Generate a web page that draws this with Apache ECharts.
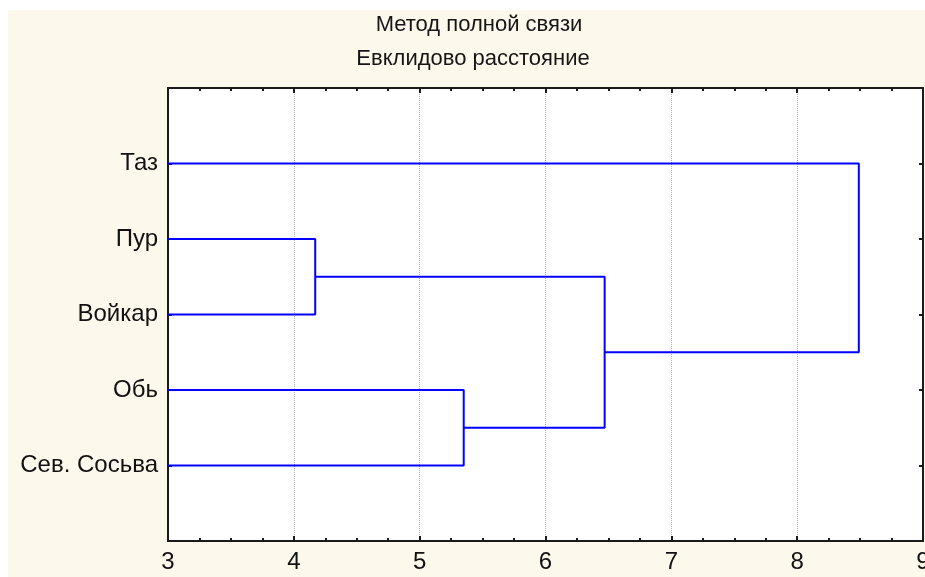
<!DOCTYPE html>
<html>
<head>
<meta charset="utf-8">
<script src="https://cdn.jsdelivr.net/npm/echarts@6/dist/echarts.min.js"></script>
<style>
  html, body { margin: 0; padding: 0; background: #ffffff; overflow: hidden; }
  #chart { position: absolute; left: 8px; top: 10px; width: 917px; height: 567px; }
</style>
</head>
<body>
<div id="chart"></div>
<script>
// ---- data ----
const titleLine1 = 'Метод полной связи';
const titleLine2 = 'Евклидово расстояние';
const leaves = ['Таз', 'Пур', 'Войкар', 'Обь', 'Сев. Сосьва'];
// merges (scipy-style node indices: leaves 0..4, clusters 5..)
const mergeLeft   = [1, 3, 5, 0];
const mergeRight  = [2, 4, 6, 7];
const mergeHeight = [4.17, 5.35, 6.47, 8.49];
const xMin = 3, xMax = 9, xInterval = 1;

// ---- build dendrogram links from data ----
const nodes = leaves.map((n, i) => ({ x: xMin, y: i + 1 }));
const series = [];
for (let k = 0; k < mergeHeight.length; k++) {
  const a = nodes[mergeLeft[k]], b = nodes[mergeRight[k]], h = mergeHeight[k];
  nodes.push({ x: h, y: (a.y + b.y) / 2 });
  series.push({
    type: 'line',
    data: [[a.x, a.y], [h, a.y], [h, b.y], [b.x, b.y]],
    symbol: 'none',
    lineStyle: { color: '#0000ff', width: 2 },
    z: 3,
    animation: false,
    silent: true
  });
}

const font = 'Liberation Sans, Arial, sans-serif';
const axisLineStyle = { color: '#1a1a1a', width: 2 };

const chart = echarts.init(document.getElementById('chart'), null, { renderer: 'canvas' });
chart.setOption({
  backgroundColor: '#fdf8ec',
  animation: false,
  title: [
    { text: titleLine1, left: 466, top: -1, textAlign: 'center',
      textStyle: { fontFamily: font, fontSize: 22, fontWeight: 'normal', color: '#151515' } },
    { text: titleLine2, left: 460, top: 33, textAlign: 'center',
      textStyle: { fontFamily: font, fontSize: 22, fontWeight: 'normal', color: '#151515' } }
  ],
  grid: { left: 160, right: 2, top: 78, bottom: 36, show: true, backgroundColor: '#ffffff', borderWidth: 0,
          containLabel: false, outerBoundsMode: 'none' },
  xAxis: [
    {
      type: 'value', position: 'bottom', min: xMin, max: xMax, interval: xInterval,
      axisLine: { show: true, onZero: false, lineStyle: axisLineStyle },
      axisTick: { show: true, inside: true, length: 5, lineStyle: axisLineStyle },
      minorTick: { show: true, splitNumber: 4, length: 3, lineStyle: { color: '#1a1a1a', width: 2 } },
      axisLabel: { show: true, margin: 9, fontFamily: font, fontSize: 24, color: '#111' },
      splitLine: { show: true, lineStyle: { color: '#b0b0b0', type: 'dotted', width: 1 } },
      minorSplitLine: { show: false }
    },
    {
      type: 'value', position: 'top', min: xMin, max: xMax, interval: xInterval,
      axisLine: { show: true, onZero: false, lineStyle: axisLineStyle },
      axisTick: { show: true, inside: true, length: 5, lineStyle: axisLineStyle },
      minorTick: { show: true, splitNumber: 4, length: 3, lineStyle: { color: '#1a1a1a', width: 2 } },
      axisLabel: { show: false },
      splitLine: { show: false }
    }
  ],
  yAxis: [
    {
      type: 'value', position: 'left', min: 0, max: leaves.length + 1, interval: 1, inverse: true,
      axisLine: { show: true, onZero: false, lineStyle: axisLineStyle },
      axisTick: { show: true, inside: true, length: 4, lineStyle: axisLineStyle },
      axisLabel: {
        show: true, margin: 10, fontFamily: font, fontSize: 24, color: '#111',
        formatter: v => leaves[v - 1] || ''
      },
      splitLine: { show: false }
    },
    {
      type: 'value', position: 'right', min: 0, max: leaves.length + 1, interval: 1, inverse: true,
      axisLine: { show: true, onZero: false, lineStyle: axisLineStyle },
      axisTick: { show: true, inside: true, length: 4, lineStyle: axisLineStyle },
      axisLabel: { show: false },
      splitLine: { show: false }
    }
  ],
  series: series
});
</script>
</body>
</html>
